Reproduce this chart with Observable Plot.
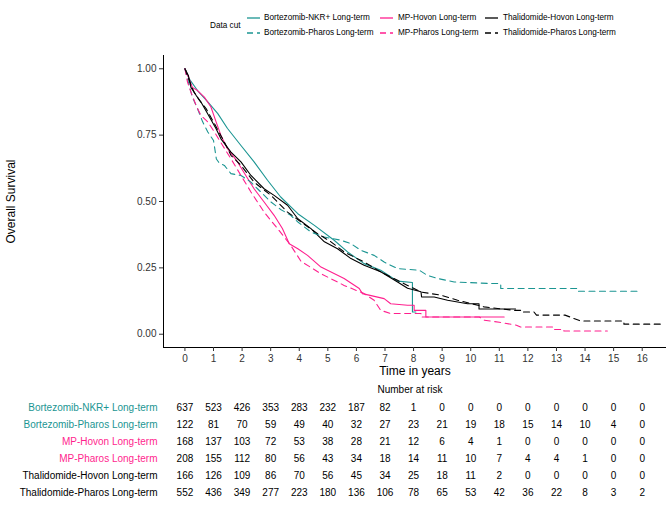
<!DOCTYPE html>
<html><head><meta charset="utf-8">
<script src="https://cdn.jsdelivr.net/npm/d3@7"></script>
<script src="https://cdn.jsdelivr.net/npm/@observablehq/plot@0.6"></script>
<style>
body{margin:0;background:#fff;font-family:"Liberation Sans",Arial,sans-serif;}
#wrap{position:relative;width:669px;height:509px;overflow:hidden;}
#legend{position:absolute;left:0;top:0;width:669px;height:45px;}
#chart{position:absolute;left:0;top:45px;}
#risk{position:absolute;left:0;top:385px;}
.lg{position:absolute;font-size:8.2px;color:#000;line-height:10px;white-space:nowrap;}
</style></head><body>
<div id="wrap"><div id="legend"></div><div id="chart"></div><div id="risk"></div></div>
<script>
const seriesNames = ["Bortezomib-NKR+ Long-term","Bortezomib-Pharos Long-term","MP-Hovon Long-term","MP-Pharos Long-term","Thalidomide-Hovon Long-term","Thalidomide-Pharos Long-term"];

const timeBortNKR = [0,0.15,0.44,0.80,1.15,1.49,1.96,2.42,2.89,3.35,3.95,4.53,5.22,5.69,6.27,6.85,7.44,7.96,7.96,8.08];
const survBortNKR = [1,0.962,0.918,0.875,0.831,0.775,0.711,0.649,0.58,0.517,0.454,0.41,0.354,0.31,0.266,0.241,0.2,0.195,0.084,0.084];

const timeBortPharos = [0,0.15,0.26,0.44,0.62,0.80,1.0,1.1,1.2,1.38,1.61,1.96,2.31,2.54,3.01,3.35,3.70,3.95,4.41,4.88,5.46,5.81,6.16,6.62,6.97,7.44,8.2,8.48,8.84,9.42,10.71,11.05,11.05,13.73,13.73,15.83];
const survBortPharos = [1,0.937,0.893,0.85,0.8,0.762,0.73,0.66,0.645,0.636,0.605,0.598,0.573,0.548,0.498,0.47,0.448,0.423,0.385,0.366,0.354,0.341,0.316,0.297,0.272,0.247,0.241,0.222,0.21,0.197,0.191,0.191,0.172,0.172,0.162,0.162];

const timeMPHovon = [0,0.12,0.26,0.44,0.68,0.91,1.09,1.26,1.49,1.84,2.13,2.42,2.77,3.12,3.41,3.65,3.95,4.29,4.76,5.57,6.10,6.21,6.97,7.20,7.79,8.02,8.02,8.43,8.43,11.17];
const survMPHovon = [1,0.969,0.93,0.918,0.893,0.856,0.8,0.749,0.699,0.649,0.598,0.548,0.498,0.448,0.398,0.341,0.322,0.297,0.253,0.21,0.172,0.153,0.134,0.115,0.109,0.109,0.09,0.09,0.065,0.065];

const timeMPPharos = [0,0.09,0.21,0.39,0.56,0.80,1.03,1.32,1.61,1.96,2.31,2.77,3.24,3.70,4.06,4.76,5.57,6.27,6.62,6.85,7.20,8.26,8.26,10.3,10.47,11.0,11.6,11.74,12.9,12.9,13.26,13.26,14.78];
const survMPPharos = [1,0.95,0.912,0.862,0.824,0.8,0.762,0.711,0.661,0.598,0.536,0.46,0.398,0.335,0.275,0.228,0.184,0.153,0.128,0.09,0.078,0.078,0.065,0.065,0.053,0.045,0.034,0.027,0.027,0.018,0.018,0.012,0.012];

const timeThalHovon = [0,0.12,0.21,0.39,0.56,0.80,1.09,1.26,1.61,1.96,2.31,2.77,3.12,3.59,3.95,4.41,4.88,5.34,5.81,6.27,6.85,7.44,7.79,8.26,8.28,8.72,9.19,9.89,10.29,10.29,11.57];
const survThalHovon = [1,0.975,0.93,0.9,0.875,0.83,0.774,0.736,0.686,0.649,0.598,0.548,0.523,0.486,0.435,0.398,0.348,0.322,0.285,0.26,0.235,0.197,0.173,0.16,0.14,0.14,0.128,0.115,0.115,0.095,0.095];

const timeThalPharos = [0,0.15,0.32,0.51,0.74,1.05,1.38,1.61,1.96,2.42,3.01,3.59,4.06,4.64,5.11,5.57,6.27,6.85,7.44,7.79,8.26,8.96,9.54,10.47,11.51,11.76,11.76,12.21,12.3,13.3,13.84,15.36,15.36,16.76];
const survThalPharos = [1,0.956,0.912,0.881,0.85,0.79,0.724,0.674,0.636,0.573,0.523,0.46,0.423,0.379,0.348,0.31,0.272,0.235,0.203,0.184,0.159,0.147,0.128,0.103,0.09,0.09,0.084,0.084,0.072,0.072,0.05,0.05,0.038,0.038];

const riskTimes = [0,1,2,3,4,5,6,7,8,9,10,11,12,13,14,15,16];
const riskBortNKR    = [637,523,426,353,283,232,187,82,1,0,0,0,0,0,0,0,0];
const riskBortPharos = [122,81,70,59,49,40,32,27,23,21,19,18,15,14,10,4,0];
const riskMPHovon    = [168,137,103,72,53,38,28,21,12,6,4,1,0,0,0,0,0];
const riskMPPharos   = [208,155,112,80,56,43,34,18,14,11,10,7,4,4,1,0,0];
const riskThalHovon  = [166,126,109,86,70,56,45,34,25,18,11,2,0,0,0,0,0];
const riskThalPharos = [552,436,349,277,223,180,136,106,78,65,53,42,36,22,8,3,2];

const yTicks = [0,0.25,0.5,0.75,1];

// styles
const TEAL = "#1b9592", PINK = "#ff1f8e", BLACK = "#000000";
const colors = [TEAL, TEAL, PINK, PINK, BLACK, BLACK];
const dashed = [false, true, false, true, false, true];
const DASH = "6,4.5";

const times = [timeBortNKR,timeBortPharos,timeMPHovon,timeMPPharos,timeThalHovon,timeThalPharos];
const survs = [survBortNKR,survBortPharos,survMPHovon,survMPPharos,survThalHovon,survThalPharos];
const risks = [riskBortNKR,riskBortPharos,riskMPHovon,riskMPPharos,riskThalHovon,riskThalPharos];

const curveData = seriesNames.flatMap((s, i) => times[i].map((t, j) => ({series: s, t, s: survs[i][j], dashed: dashed[i]})));
const riskData = seriesNames.flatMap((s, i) => riskTimes.map((t, j) => ({series: s, t, n: risks[i][j]})));

const xDomain = [-0.75, 16.85];
const font = "Liberation Sans, Arial, sans-serif";

const chart = Plot.plot({
  width: 669, height: 340,
  marginLeft: 163, marginRight: 3, marginTop: 10, marginBottom: 38,
  style: {fontFamily: font, background: "#fff"},
  x: {domain: xDomain},
  y: {domain: [-0.05, 1.05]},
  color: {domain: seriesNames, range: colors},
  marks: [
    Plot.line(curveData.filter(d => !d.dashed), {x: "t", y: "s", z: "series", stroke: "series", strokeWidth: 1.1}),
    Plot.line(curveData.filter(d => d.dashed), {x: "t", y: "s", z: "series", stroke: "series", strokeWidth: 1.1, strokeDasharray: DASH}),
    Plot.ruleX([xDomain[0]], {stroke: "#000", strokeWidth: 1}),
    Plot.ruleY([-0.05], {stroke: "#000", strokeWidth: 1}),
    Plot.axisX({ticks: riskTimes, tickSize: 4, tickPadding: 3, fontSize: 10, color: "#333", label: null}),
    Plot.axisX({ticks: [], tickSize: 0, label: "Time in years", labelAnchor: "center", labelArrow: "none", labelOffset: 27, fontSize: 12, color: "#000"}),
    Plot.axisY({ticks: yTicks, tickFormat: d3.format(".2f"), tickSize: 4, tickPadding: 3, fontSize: 10, color: "#333", label: null}),
    Plot.axisY({ticks: [], tickSize: 0, label: "Overall Survival", labelAnchor: "center", labelArrow: "none", labelOffset: 157, fontSize: 12, color: "#000"})
  ]
});
document.getElementById("chart").appendChild(chart);

const risk = Plot.plot({
  width: 669, height: 124,
  marginLeft: 163, marginRight: 3, marginTop: 22, marginBottom: 17,
  style: {fontFamily: font, background: "#fff"},
  x: {domain: xDomain, axis: null},
  y: {type: "point", domain: seriesNames, axis: null, padding: 0},
  color: {domain: seriesNames, range: colors},
  marks: [
    Plot.text(riskData, {x: "t", y: "series", text: d => String(d.n), fontSize: 10, fill: "#000"}),
    Plot.text(seriesNames, {x: xDomain[0], y: d => d, text: d => d, textAnchor: "end", dx: -6, fontSize: 10, fill: d => d}),
    Plot.text(["Number at risk"], {frameAnchor: "top", dy: -15, dx: -5, text: d => d, fontSize: 10, fill: "#000", lineAnchor: "bottom"})
  ]
});
document.getElementById("risk").appendChild(risk);

// legend (above the chart)
const lg = document.getElementById("legend");
function addText(txt, x, y) {
  const d = document.createElement("div");
  d.className = "lg"; d.textContent = txt;
  d.style.left = x + "px"; d.style.top = (y - 5) + "px";
  lg.appendChild(d);
}
addText("Data cut", 210, 25.7);
const colKeyX = [246.5, 380, 485];
const colLabelX = [264, 398, 503];
const rowY = [17.7, 33.3];
seriesNames.forEach((name, i) => {
  const col = Math.floor(i / 2), row = i % 2;
  const svg = d3.select(lg).append("svg")
    .style("position", "absolute")
    .style("left", colKeyX[col] + "px").style("top", (rowY[row] - 3) + "px")
    .attr("width", 14).attr("height", 6);
  svg.append("line").attr("x1", 0).attr("x2", 13).attr("y1", 3).attr("y2", 3)
    .attr("stroke", colors[i]).attr("stroke-width", 1.3)
    .attr("stroke-dasharray", dashed[i] ? "6,4" : null);
  addText(name, colLabelX[col], rowY[row]);
});
</script>
</body></html>
